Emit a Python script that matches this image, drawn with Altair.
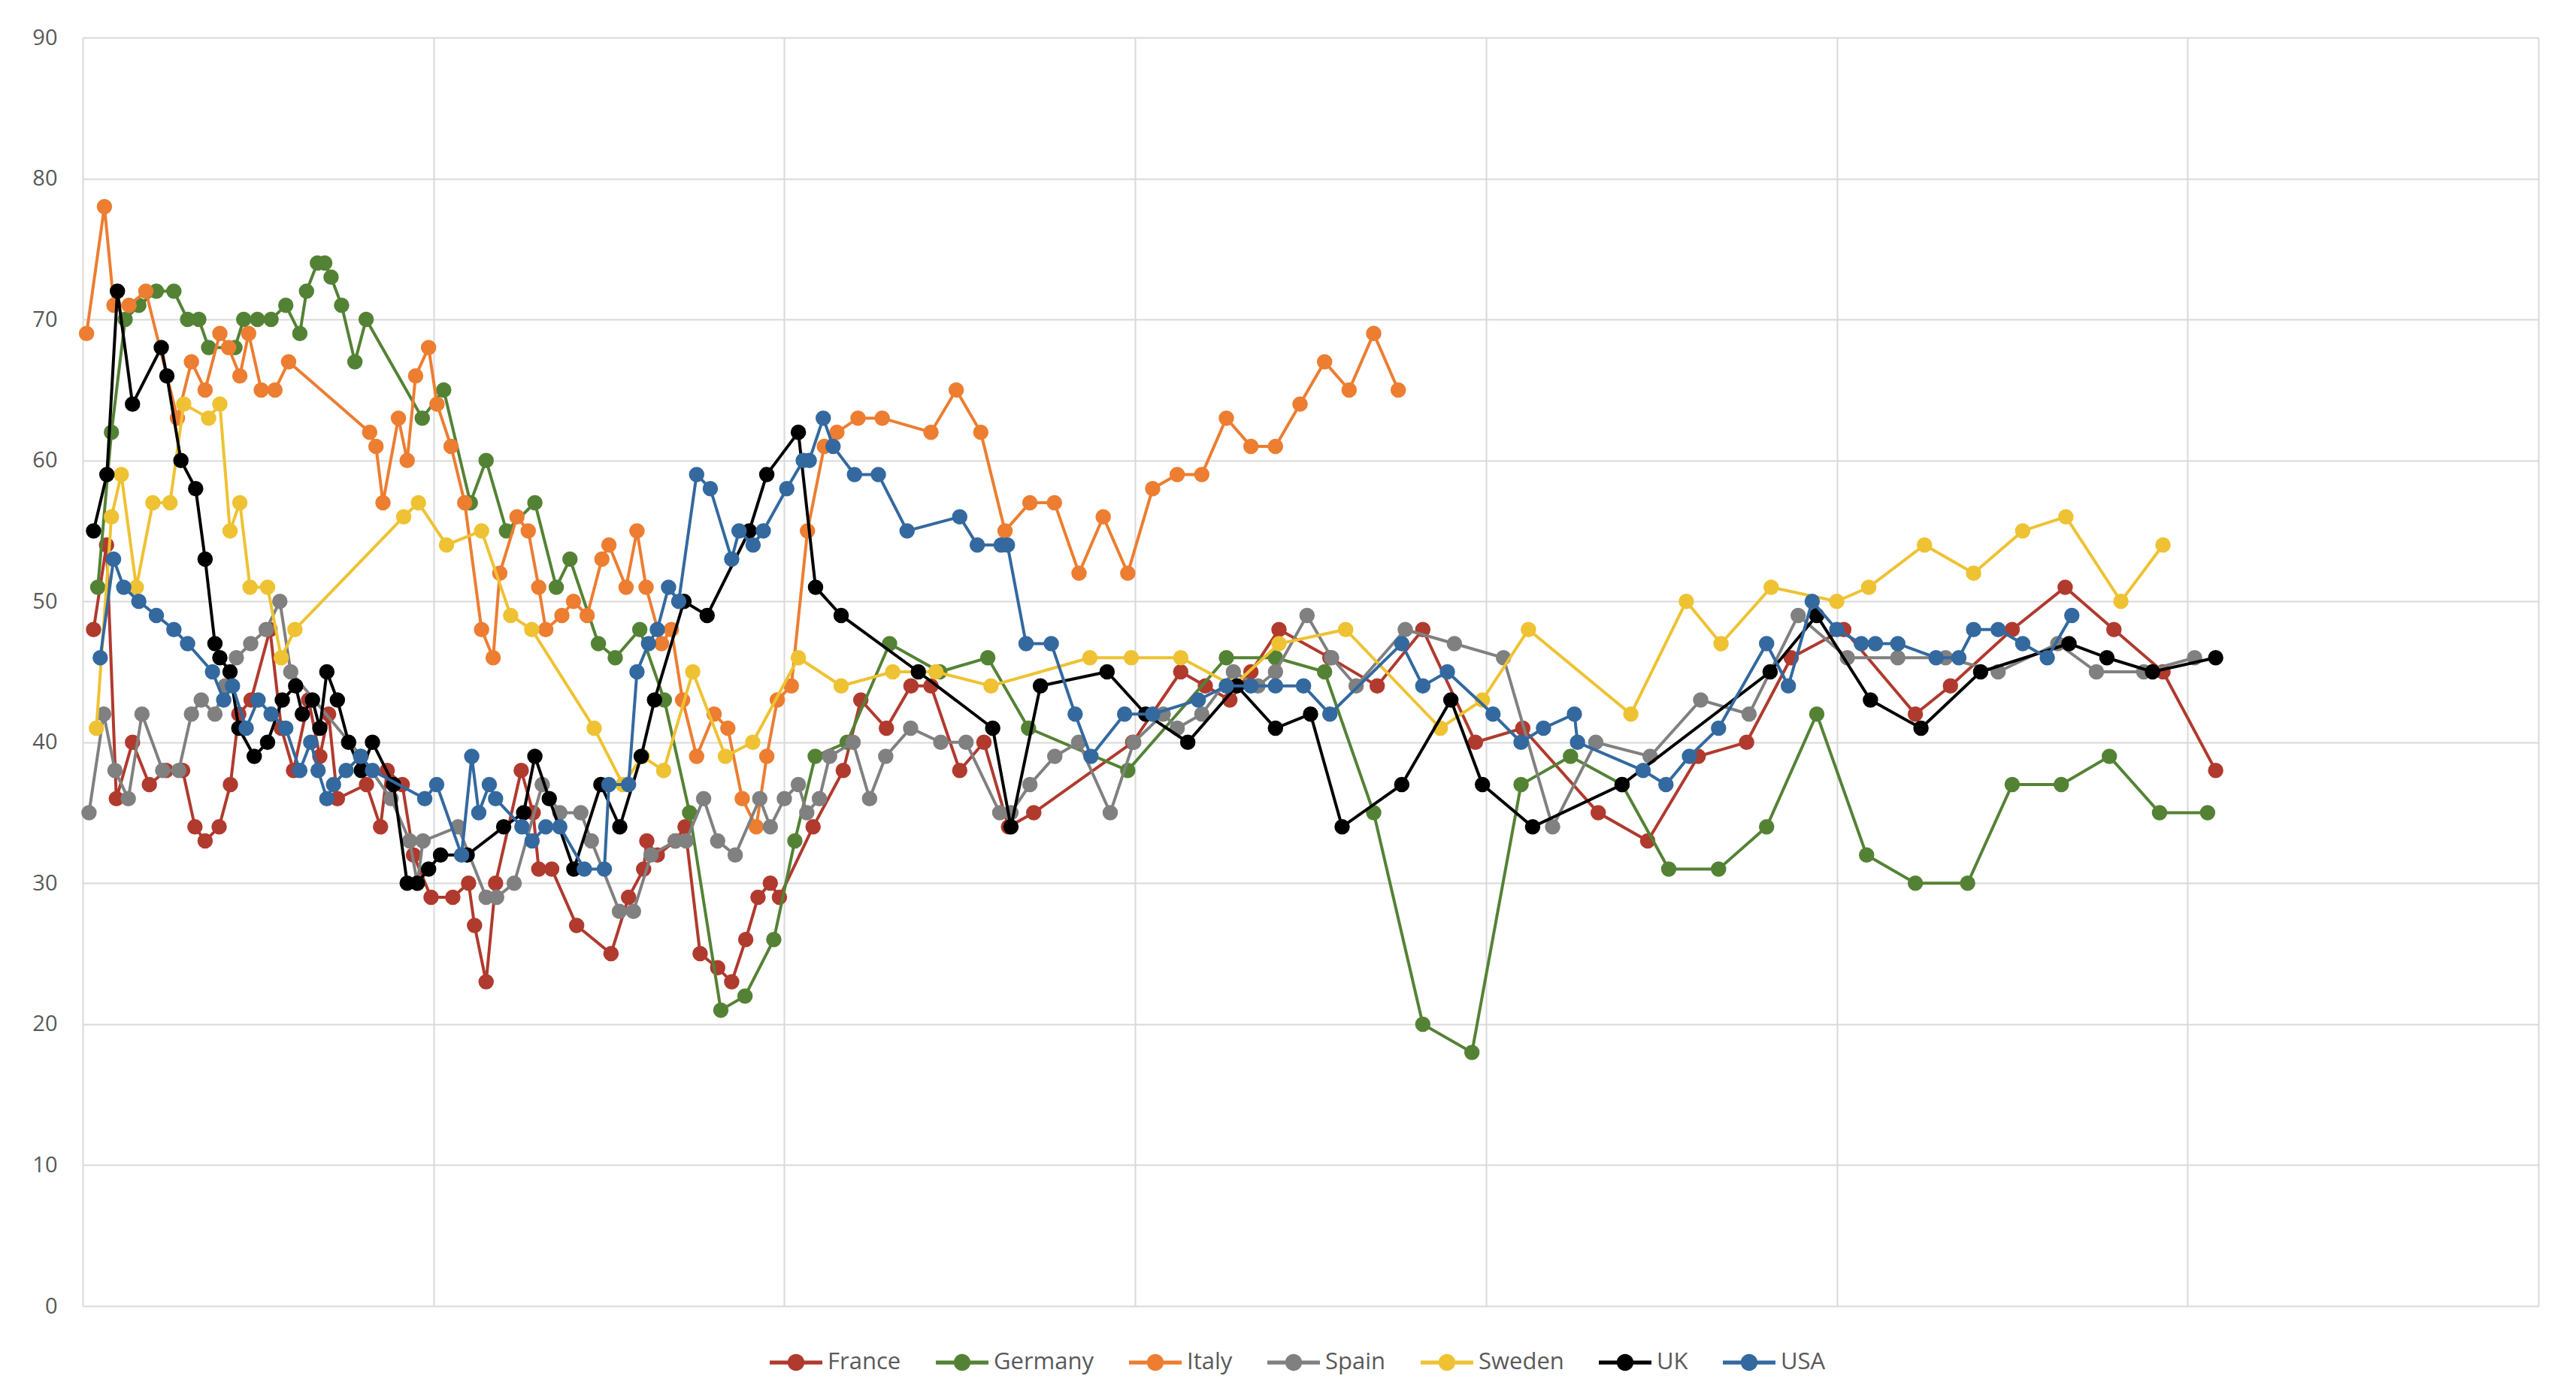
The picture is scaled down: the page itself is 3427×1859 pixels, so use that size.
import altair as alt
import pandas as pd

countries = ["France", "Germany", "Italy", "Spain", "Sweden", "UK", "USA"]
colors = ["#B03A2E", "#548235", "#ED7D31", "#808080", "#EEC232", "#000000", "#33699F"]

france_t = [0.031,0.068,0.096,0.142,0.19,0.238,0.285,0.32,0.349,0.389,0.421,0.445,0.48,0.534,0.566,0.601,0.644,0.676,0.701,0.726,0.809,0.849,0.868,0.911,0.943,0.993,1.055,1.1,1.117,1.15,1.177,1.25,1.284,1.3,1.337,1.408,1.506,1.556,1.599,1.608,1.638,1.689,1.717,1.76,1.81,1.85,1.89,1.925,1.96,1.986,2.082,2.168,2.218,2.291,2.361,2.418,2.5,2.569,2.639,2.711,2.993,3.13,3.20,3.27,3.33,3.41,3.555,3.69,3.82,3.97,4.105,4.32,4.461,4.605,4.743,4.87,5.02,5.224,5.324,5.5,5.651,5.79,5.93,6.08]
france_v = [48,54,36,40,37,38,38,34,33,34,37,42,43,48,41,38,43,39,42,36,37,34,38,37,32,29,29,30,27,23,30,38,35,31,31,27,25,29,31,33,32,33,34,25,24,23,26,29,30,29,34,38,43,41,44,44,38,40,34,35,40,45,44,43,45,48,46,44,48,40,41,35,33,39,40,46,48,42,44,48,51,48,45,38]

germany_t = [0.043,0.082,0.121,0.16,0.21,0.26,0.299,0.331,0.359,0.434,0.459,0.498,0.537,0.579,0.619,0.638,0.669,0.69,0.708,0.738,0.776,0.808,0.968,1.029,1.105,1.15,1.208,1.289,1.35,1.389,1.47,1.518,1.588,1.658,1.73,1.819,1.888,1.97,2.03,2.088,2.179,2.30,2.443,2.58,2.696,2.979,3.26,3.40,3.54,3.68,3.82,3.96,4.10,4.241,4.388,4.521,4.663,4.80,4.943,5.085,5.224,5.373,5.50,5.64,5.777,5.92,6.057]
germany_v = [51,62,70,71,72,72,70,70,68,68,70,70,70,71,69,72,74,74,73,71,67,70,63,65,57,60,55,57,51,53,47,46,48,43,35,21,22,26,33,39,40,47,45,46,41,38,46,46,45,35,20,18,37,39,37,31,31,34,42,32,30,30,37,37,39,35,35]

italy_t = [0.011,0.062,0.089,0.132,0.180,0.270,0.310,0.349,0.391,0.416,0.448,0.473,0.509,0.548,0.587,0.818,0.836,0.856,0.900,0.925,0.949,0.986,1.01,1.05,1.089,1.137,1.17,1.189,1.238,1.27,1.30,1.32,1.366,1.399,1.438,1.48,1.50,1.549,1.58,1.606,1.65,1.678,1.71,1.75,1.80,1.839,1.88,1.92,1.95,1.98,2.02,2.066,2.114,2.15,2.21,2.279,2.418,2.49,2.56,2.629,2.70,2.77,2.84,2.909,2.979,3.05,3.12,3.19,3.26,3.33,3.40,3.47,3.54,3.61,3.68,3.75]
italy_v = [69,78,71,71,72,63,67,65,69,68,66,69,65,65,67,62,61,57,63,60,66,68,64,61,57,48,46,52,56,55,51,48,49,50,49,53,54,51,55,51,47,48,43,39,42,41,36,34,39,43,44,55,61,62,63,63,62,65,62,55,57,57,52,56,52,58,59,59,63,61,61,64,67,65,69,65]

spain_t = [0.018,0.06,0.092,0.13,0.169,0.228,0.274,0.31,0.338,0.377,0.406,0.438,0.479,0.523,0.562,0.593,0.794,0.879,0.932,0.954,0.97,1.07,1.15,1.18,1.23,1.31,1.36,1.42,1.45,1.53,1.57,1.62,1.69,1.72,1.77,1.81,1.86,1.93,1.96,2.0,2.04,2.064,2.1,2.129,2.196,2.243,2.289,2.36,2.446,2.518,2.614,2.646,2.7,2.771,2.839,2.929,2.996,3.08,3.12,3.19,3.28,3.35,3.40,3.49,3.56,3.63,3.77,3.91,4.05,4.19,4.313,4.468,4.612,4.75,4.89,5.03,5.174,5.31,5.46,5.63,5.74,5.875,6.02]
spain_v = [35,42,38,36,42,38,38,42,43,42,44,46,47,48,50,45,39,36,33,30,33,34,29,29,30,37,35,35,33,28,28,32,33,33,36,33,32,36,34,36,37,35,36,39,40,36,39,41,40,40,35,35,37,39,40,35,40,42,41,42,45,44,45,49,46,44,48,47,46,34,40,39,43,42,49,46,46,46,45,47,45,45,46]

sweden_t = [0.039,0.082,0.11,0.153,0.2,0.249,0.288,0.359,0.391,0.42,0.448,0.477,0.527,0.566,0.605,0.915,0.957,1.037,1.137,1.22,1.28,1.458,1.54,1.595,1.656,1.739,1.832,1.91,2.04,2.162,2.309,2.432,2.589,2.871,2.989,3.13,3.28,3.41,3.6,3.87,3.99,4.121,4.413,4.571,4.67,4.813,5.0,5.091,5.25,5.39,5.53,5.653,5.81,5.93]
sweden_v = [41,56,59,51,57,57,64,63,64,55,57,51,51,46,48,56,57,54,55,49,48,41,37,39,38,45,39,40,46,44,45,45,44,46,46,46,44,47,48,41,43,48,42,50,47,51,50,51,54,52,55,56,50,54]

uk_t = [0.031,0.069,0.099,0.142,0.224,0.24,0.28,0.322,0.349,0.377,0.391,0.42,0.445,0.489,0.527,0.569,0.607,0.626,0.655,0.676,0.696,0.726,0.758,0.794,0.826,0.886,0.925,0.954,0.986,1.02,1.096,1.2,1.257,1.289,1.33,1.40,1.477,1.531,1.592,1.63,1.714,1.78,1.90,1.95,2.04,2.089,2.162,2.382,2.594,2.646,2.73,2.92,3.03,3.15,3.29,3.40,3.50,3.59,3.76,3.90,3.99,4.133,4.388,4.81,4.943,5.096,5.24,5.41,5.662,5.77,5.9,6.08]
uk_v = [55,59,72,64,68,66,60,58,53,47,46,45,41,39,40,43,44,42,43,41,45,43,40,38,40,37,30,30,31,32,32,34,35,39,36,31,37,34,39,43,50,49,55,59,62,51,49,45,41,34,44,45,42,40,44,41,42,34,37,43,37,34,37,45,49,43,41,45,47,46,45,46]

usa_t = [0.05,0.088,0.117,0.16,0.21,0.26,0.299,0.37,0.402,0.427,0.466,0.5,0.537,0.579,0.619,0.65,0.671,0.696,0.715,0.751,0.792,0.826,0.975,1.009,1.08,1.109,1.129,1.159,1.177,1.252,1.281,1.32,1.36,1.43,1.487,1.5,1.556,1.58,1.613,1.638,1.67,1.699,1.75,1.789,1.85,1.871,1.911,1.94,2.007,2.054,2.071,2.111,2.139,2.2,2.268,2.35,2.5,2.55,2.618,2.636,2.689,2.761,2.829,2.874,2.97,3.05,3.18,3.26,3.33,3.40,3.48,3.555,3.76,3.82,3.89,4.02,4.10,4.164,4.252,4.261,4.448,4.513,4.58,4.663,4.80,4.862,4.93,5.0,5.07,5.11,5.174,5.283,5.348,5.39,5.46,5.53,5.60,5.67]
usa_v = [46,53,51,50,49,48,47,45,43,44,41,43,42,41,38,40,38,36,37,38,39,38,36,37,32,39,35,37,36,34,33,34,34,31,31,37,37,45,47,48,51,50,59,58,53,55,54,55,58,60,60,63,61,59,59,55,56,54,54,54,47,47,42,39,42,42,43,44,44,44,44,42,47,44,45,42,40,41,42,40,38,37,39,41,47,44,50,48,47,47,47,46,46,48,48,47,46,49]

series = [
    ("France", france_t, france_v),
    ("Germany", germany_t, germany_v),
    ("Italy", italy_t, italy_v),
    ("Spain", spain_t, spain_v),
    ("Sweden", sweden_t, sweden_v),
    ("UK", uk_t, uk_v),
    ("USA", usa_t, usa_v),
]

FONT = "Open Sans"
GRID = "#d9d9d9"

x_scale = alt.Scale(domain=[0, 7], nice=False, zero=False)
y_scale = alt.Scale(domain=[0, 90], nice=False)
c_scale = alt.Scale(domain=countries, range=colors)

x_axis = alt.Axis(values=[0, 1, 2, 3, 4, 5, 6, 7], labels=False, ticks=False, domain=False,
                  grid=True, gridColor=GRID, gridWidth=2, title=None)
y_axis = alt.Axis(values=list(range(0, 91, 10)), ticks=False, domain=False, grid=True,
                  gridColor=GRID, gridWidth=2, title=None, labelFont=FONT, labelFontSize=29,
                  labelColor="#595959", labelPadding=34)

legend_symbol = ("M-1,-0.075H1V0.075H-1Z "
                 "M0.32,0A0.32,0.32,0,1,1,-0.32,0A0.32,0.32,0,1,1,0.32,0Z")
legend = alt.Legend(title=None, orient="none", direction="horizontal", legendX=914, legendY=1728,
                    symbolType=legend_symbol, symbolSize=4900, symbolStrokeWidth=0,
                    symbolOpacity=1, labelFont=FONT, labelFontSize=31, labelColor="#595959",
                    labelOffset=7, columnPadding=46)

layers = []
for name, t, v in series:
    d = pd.DataFrame({"t": t, "v": v, "country": name})
    enc = dict(
        x=alt.X("t:Q", scale=x_scale, axis=x_axis),
        y=alt.Y("v:Q", scale=y_scale, axis=y_axis),
        color=alt.Color("country:N", scale=c_scale, legend=legend),
    )
    layers.append(alt.Chart(d).mark_line(strokeWidth=4).encode(**enc))
    layers.append(alt.Chart(d).mark_point(filled=True, size=420, opacity=1).encode(**enc))

chart = alt.layer(*layers).properties(
    width=3267,
    height=1688,
    padding={"left": 34, "top": 28, "right": 10, "bottom": 10},
    background="white",
).configure_view(stroke=None).configure_legend(symbolType=legend_symbol, symbolStrokeWidth=0)

chart.save("out.html", embed_options={"renderer": "svg", "actions": False})
